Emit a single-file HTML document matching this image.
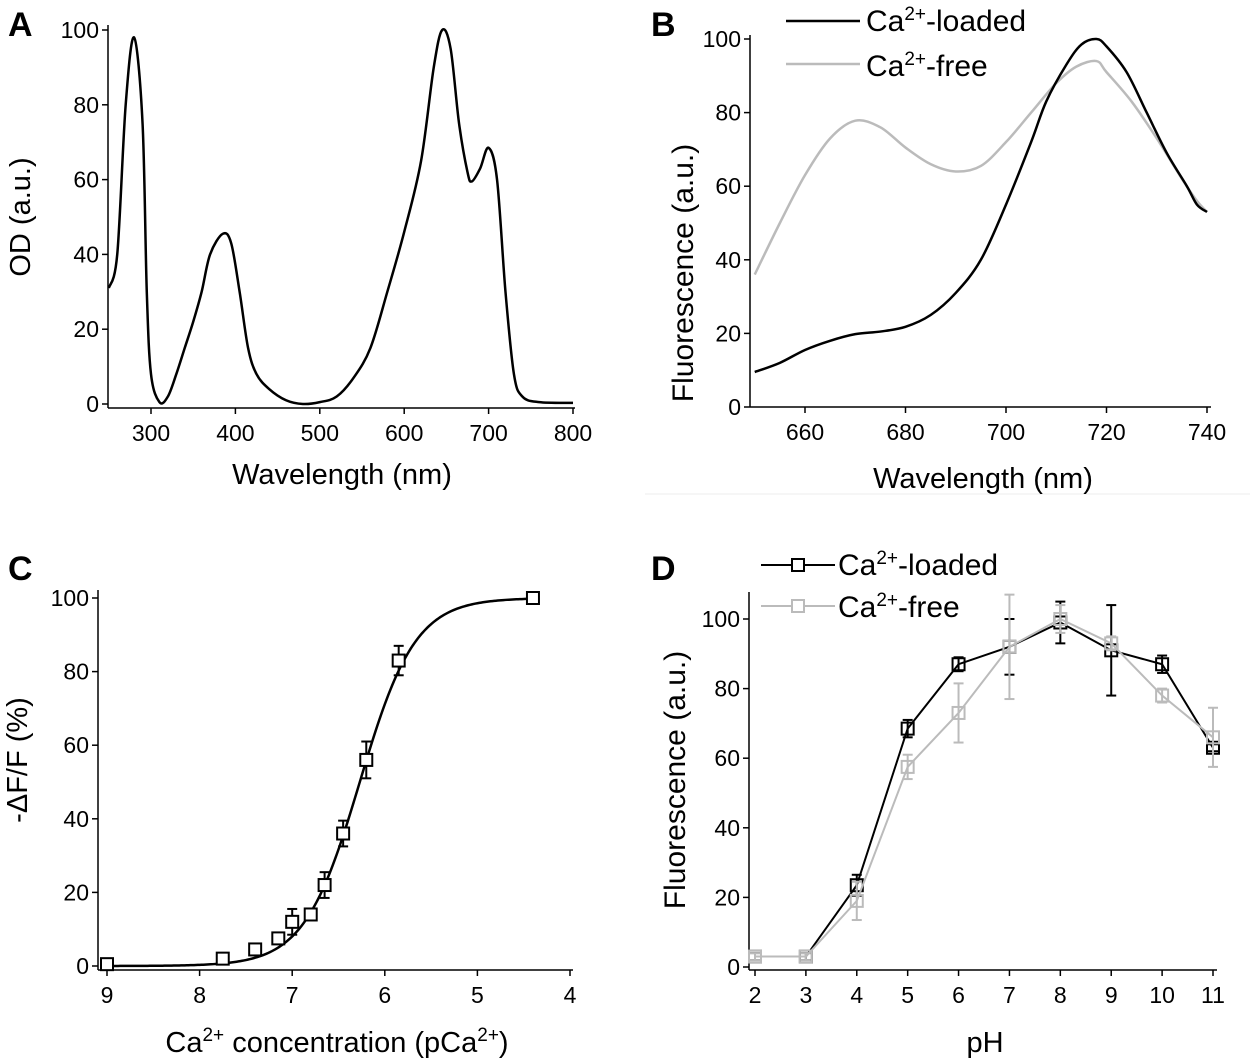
<!DOCTYPE html>
<html><head><meta charset="utf-8"><style>
html,body{margin:0;padding:0;background:#fff;}
svg{display:block;font-family:"Liberation Sans",Arial,sans-serif;}
</style></head><body>
<svg id="fig" width="1250" height="1062" viewBox="0 0 1250 1062">
<line x1="645" y1="494" x2="1250" y2="494" stroke="#eee" stroke-width="1"/>
<text x="8" y="36" font-size="34" font-weight="bold">A</text>
<text x="651" y="36" font-size="34" font-weight="bold">B</text>
<text x="8" y="580" font-size="34" font-weight="bold">C</text>
<text x="651" y="580" font-size="34" font-weight="bold">D</text>
</svg>
<script>
// ---- Panel A data ----
const aWave=[250,260,270,280,290,295,300,310,320,330,340,350,360,370,385,395,405,415,425,440,460,480,500,520,540,560,580,600,620,635,645,655,665,675,680,690,700,710,720,730,740,760,800];
const aOD=[31,40,80,98,75,30,8,0.5,2,8,15,22,30,40,45.5,43,30,15,8,4,1,0,0.5,2,7,15,30,46,65,90,100,95,75,62,59.5,63,68.5,60,30,8,2,0.5,0.3];
const aXTicks=[300,400,500,600,700,800];
const aYTicks=[0,20,40,60,80,100];
// ---- Panel B data ----
const bWaveLoaded=[650,655,660,665,670,675,680,685,690,695,700,705,708,712,715,718,720,724,728,732,736,738,740];
const bLoaded=[9.5,12,15.5,18,19.8,20.5,21.8,25,31,40,55,72,83,93,98.5,100,98,91,80,69,60,55,53];
const bWaveFree=[650,655,660,665,670,675,680,685,690,695,700,705,710,714,718,720,725,730,735,738,740];
const bFree=[36,50,63,73,77.8,76,70.5,66,64,65.5,72,80,88,92.5,94,91,83,73,62,56,53];
const bXTicks=[660,680,700,720,740];
const bYTicks=[0,20,40,60,80,100];
// ---- Panel C data ----
const cPCa=[9,7.75,7.4,7.15,7.0,6.8,6.65,6.45,6.2,5.85,4.4];
const cDF=[0.5,2,4.5,7.5,12,14,22,36,56,83,100];
const cErr=[1.5,1.5,1,0.5,3.5,1,3.5,3.5,5,4,0.5];
const cPKd=6.27, cHill=1.45;
const cXTicks=[9,8,7,6,5,4];
const cYTicks=[0,20,40,60,80,100];
// ---- Panel D data ----
const dPH=[2,3,4,5,6,7,8,9,10,11];
const dLoaded=[3,3,23.5,68.5,87,92,99,91,87,63];
const dLoadedErr=[1,1,3,2.5,2,8,6,13,2.5,1];
const dFree=[3,3,19,57.5,73,92,100,93,78,66];
const dFreeErr=[1,1,5.5,3.5,8.5,15,4,2,2,8.5];
const dXTicks=[2,3,4,5,6,7,8,9,10,11];
const dYTicks=[0,20,40,60,80,100];

const NS="http://www.w3.org/2000/svg";
const svg=document.getElementById('fig');
function mk(tag,attrs,parent){const e=document.createElementNS(NS,tag);for(const k in attrs)e.setAttribute(k,attrs[k]);(parent||svg).appendChild(e);return e;}
function lin(d0,d1,r0,r1){return v=>r0+(v-d0)*(r1-r0)/(d1-d0);}
function smoothPath(pts){let d=`M${pts[0][0]},${pts[0][1]}`;for(let i=0;i<pts.length-1;i++){const p0=pts[i-1]||pts[i],p1=pts[i],p2=pts[i+1],p3=pts[i+2]||p2;d+=` C${p1[0]+(p2[0]-p0[0])/6},${p1[1]+(p2[1]-p0[1])/6} ${p2[0]-(p3[0]-p1[0])/6},${p2[1]-(p3[1]-p1[1])/6} ${p2[0]},${p2[1]}`;}return d;}
function axes(g,x,y,xT,yT,X0,X1,Ytop,Ybot,axisY){
  const ax=mk('g',{},g);
  mk('line',{x1:X0,y1:Ytop,x2:X0,y2:axisY,stroke:'#000','stroke-width':1.5},ax);
  mk('line',{x1:X0,y1:axisY,x2:X1,y2:axisY,stroke:'#000','stroke-width':1.5},ax);
  yT.forEach(v=>{mk('line',{x1:X0-6,y1:y(v),x2:X0,y2:y(v),stroke:'#000','stroke-width':1.5},ax);
    const t=mk('text',{x:X0-9,y:y(v)+8,'font-size':23,'text-anchor':'end'},ax);t.textContent=v;
    });
  xT.forEach(v=>{mk('line',{x1:x(v),y1:axisY,x2:x(v),y2:axisY+6,stroke:'#000','stroke-width':1.5},ax);
    const t=mk('text',{x:x(v),y:axisY+33,'font-size':23,'text-anchor':'middle'},ax);t.textContent=v;
    });
}
function ytitle(g,cx,cy,html,fs){const t=mk('text',{transform:`translate(${cx},${cy}) rotate(-90)`,'font-size':fs||29,'text-anchor':'middle'},g);t.innerHTML=html;}
function xtitle(g,cx,cy,html){const t=mk('text',{x:cx,y:cy,'font-size':29,'text-anchor':'middle'},g);t.innerHTML=html;}
const CA='Ca<tspan dy="-11" font-size="19">2+</tspan><tspan dy="11">';

// Panel A
{const g=mk('g',{});
const x=lin(300,800,151,573),y=lin(0,100,404,30);
axes(g,x,y,aXTicks,aYTicks,108,575,25,408,408);
const p=mk('path',{d:smoothPath(aWave.map((w,i)=>[x(w),y(aOD[i])])),fill:'none',stroke:'#000','stroke-width':2.5},g);

ytitle(g,30,217,'OD (a.u.)');xtitle(g,342,484,'Wavelength (nm)');}

// Panel B
{const g=mk('g',{});
const x=lin(660,740,805,1207),y=lin(0,100,407,39);
axes(g,x,y,bXTicks,bYTicks,750,1211,35,407,407);
const pf=mk('path',{d:smoothPath(bWaveFree.map((w,i)=>[x(w),y(bFree[i])])),fill:'none',stroke:'#bbb','stroke-width':2.5},g);

const pl=mk('path',{d:smoothPath(bWaveLoaded.map((w,i)=>[x(w),y(bLoaded[i])])),fill:'none',stroke:'#000','stroke-width':2.5},g);

ytitle(g,693,273,'Fluorescence (a.u.)',30);xtitle(g,983,488,'Wavelength (nm)');
const l1=mk('g',{},g);
mk('line',{x1:786,y1:21,x2:860,y2:21,stroke:'#000','stroke-width':2.5},l1);
const t1=mk('text',{x:866,y:31,'font-size':30},l1);t1.innerHTML=CA+'-loaded</tspan>';
const l2=mk('g',{},g);
mk('line',{x1:786,y1:64,x2:860,y2:64,stroke:'#bbb','stroke-width':2.5},l2);
const t2=mk('text',{x:866,y:76,'font-size':30},l2);t2.innerHTML=CA+'-free</tspan>';}

// Panel C
{const g=mk('g',{});
const x=lin(9,4,107,570),y=lin(0,100,966,598);
axes(g,x,y,cXTicks,cYTicks,98,573,590,970,970);
const fit=[];for(let p=9;p>=4.4-1e-9;p-=0.02){fit.push([x(p),y(100/(1+Math.pow(10,cHill*(p-cPKd))))]);}
const fl=mk('path',{d:'M'+fit.map(q=>q.join(',')).join(' L'),fill:'none',stroke:'#000','stroke-width':2.5},g);

cPCa.forEach((p,i)=>{const m=mk('g',{},g);
 const cx=x(p),cy=y(cDF[i]),t=y(cDF[i]+cErr[i]),b=y(cDF[i]-cErr[i]);
 mk('line',{x1:cx,y1:t,x2:cx,y2:b,stroke:'#000','stroke-width':2},m);
 mk('line',{x1:cx-5,y1:t,x2:cx+5,y2:t,stroke:'#000','stroke-width':2},m);
 mk('line',{x1:cx-5,y1:b,x2:cx+5,y2:b,stroke:'#000','stroke-width':2},m);
 mk('rect',{x:cx-6,y:cy-6,width:12,height:12,fill:'#fff',stroke:'#000','stroke-width':2},m);});
ytitle(g,27,760,'-ΔF/F (%)');xtitle(g,337,1052,CA+' concentration (pCa</tspan><tspan dy="-11" font-size="19">2+</tspan><tspan dy="11">)</tspan>');}

// Panel D
{const g=mk('g',{});
const x=lin(2,11,755,1213),y=lin(0,100,967,619);
axes(g,x,y,dXTicks,dYTicks,749,1217,592,970,970);
function series(vals,errs,col,name){
 const sg=mk('g',{},g);
 mk('polyline',{points:dPH.map((p,i)=>x(p)+','+y(vals[i])).join(' '),fill:'none',stroke:col,'stroke-width':2},sg);
 dPH.forEach((p,i)=>{const cx=x(p),cy=y(vals[i]),t=y(vals[i]+errs[i]),b=y(vals[i]-errs[i]);
  mk('line',{x1:cx,y1:t,x2:cx,y2:b,stroke:col,'stroke-width':2},sg);
  mk('line',{x1:cx-5,y1:t,x2:cx+5,y2:t,stroke:col,'stroke-width':2},sg);
  mk('line',{x1:cx-5,y1:b,x2:cx+5,y2:b,stroke:col,'stroke-width':2},sg);
  mk('rect',{x:cx-6,y:cy-6,width:12,height:12,fill:'none',stroke:col,'stroke-width':2},sg);});
}
series(dLoaded,dLoadedErr,'#000','ca-loaded-series');
series(dFree,dFreeErr,'#bbb','ca-free-series');
ytitle(g,685,780,'Fluorescence (a.u.)',30);xtitle(g,985,1052,'pH');
const l1=mk('g',{},g);
mk('line',{x1:761,y1:565,x2:835,y2:565,stroke:'#000','stroke-width':2},l1);
mk('rect',{x:792,y:559,width:12,height:12,fill:'#fff',stroke:'#000','stroke-width':2},l1);
const t1=mk('text',{x:838,y:575,'font-size':30},l1);t1.innerHTML=CA+'-loaded</tspan>';
const l2=mk('g',{},g);
mk('line',{x1:761,y1:606,x2:835,y2:606,stroke:'#bbb','stroke-width':2},l2);
mk('rect',{x:792,y:600,width:12,height:12,fill:'#fff',stroke:'#bbb','stroke-width':2},l2);
const t2=mk('text',{x:838,y:617,'font-size':30},l2);t2.innerHTML=CA+'-free</tspan>';}
</script>
</body></html>
